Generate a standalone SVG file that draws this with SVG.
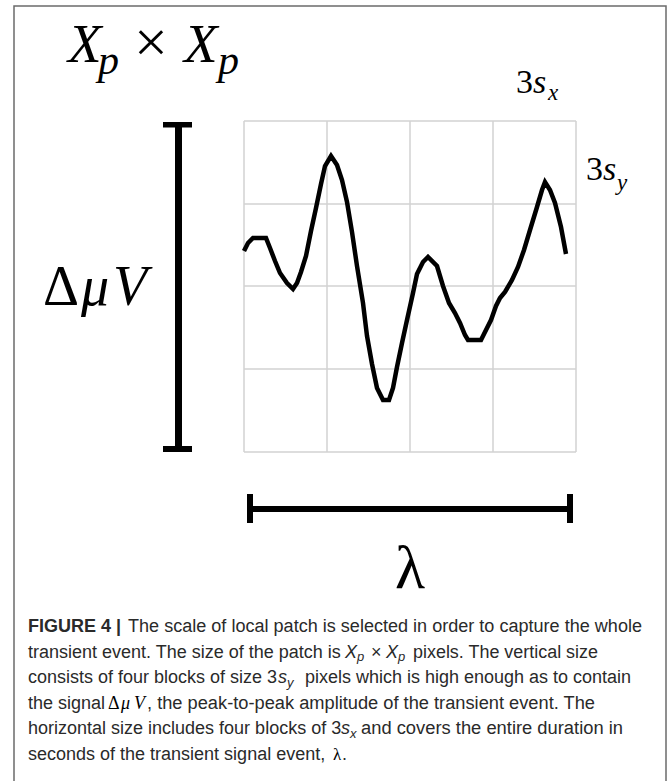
<svg xmlns="http://www.w3.org/2000/svg" width="670" height="781" viewBox="0 0 670 781">
<style>
.frame{fill:none;stroke:#6b6b6b;stroke-width:1.5}
.grid line{stroke:#d2d2d2;stroke-width:1.5}
.sig{fill:none;stroke:#000;stroke-width:4.5;stroke-linejoin:miter;stroke-miterlimit:3}
.bar{fill:#000}
.m{font-family:"Liberation Serif","DejaVu Serif",serif;fill:#000}
.i{font-style:italic}
.cap{font-family:"Liberation Sans",Arial,sans-serif;font-size:18px;fill:#2a2a2a}
.capm{font-family:"Liberation Sans",Arial,sans-serif;fill:#2a2a2a;font-style:italic}
.b{font-weight:bold}
</style>
<rect width="670" height="781" fill="#fff"/>
<path class="frame" d="M14,781 V6 H666 V781"/>

<g id="grid" class="grid">
<line x1="244" y1="121" x2="576" y2="121"/>
<line x1="244" y1="204" x2="576" y2="204"/>
<line x1="244" y1="286" x2="576" y2="286"/>
<line x1="244" y1="369" x2="576" y2="369"/>
<line x1="244" y1="452" x2="576" y2="452"/>
<line x1="244" y1="121" x2="244" y2="452"/>
<line x1="327" y1="121" x2="327" y2="452"/>
<line x1="410" y1="121" x2="410" y2="452"/>
<line x1="493" y1="121" x2="493" y2="452"/>
<line x1="576" y1="121" x2="576" y2="452"/>
</g>

<g id="signal">
<polyline class="sig" points="244,251 248,243 253,238 266,238 270,248 275,261 280,273 287,283 293,289 297,283 301,272 306,256 311,231 316,208 321,184 325,166 331,156 337,165 342,180 347,202 352,232 357,266 363,303 367,336 372,364 377,388 383,400 389,400 393,388 397,367 402,343 407,320 413,293 417,274 423,262 428,257 437,266 443,286 449,303 455,313 460,323 465,335 468,340 481,340 486,330 491,320 496,306 500,298 505,292 512,280 518,267 524,250 530,230 537,207 542,190 545,182 550,190 555,203 561,227 566,254"/>
</g>

<g id="amplitude-bar">
<rect class="bar" x="175" y="122" width="7" height="330"/>
<rect class="bar" x="163" y="122" width="29" height="5.5"/>
<rect class="bar" x="163" y="446" width="29" height="6"/>
</g>

<g id="duration-bar">
<rect class="bar" x="247" y="506" width="326" height="6"/>
<rect class="bar" x="247" y="494" width="6" height="29"/>
<rect class="bar" x="567" y="494" width="6" height="29"/>
</g>

<g id="patch-size-label">
<text class="m i" x="68" y="62" font-size="55">X</text>
<text class="m i" x="98" y="74" font-size="42">p</text>
<text class="m" x="134" y="62" font-size="60">×</text>
<text class="m i" x="184" y="62" font-size="55">X</text>
<text class="m i" x="218" y="74" font-size="42">p</text>
</g>

<g id="block-x-label">
<text class="m" x="516" y="93" font-size="34">3<tspan class="i">s</tspan></text>
<text class="m i" x="548" y="100" font-size="23">x</text>
</g>
<g id="block-y-label">
<text class="m" x="586" y="180" font-size="34">3<tspan class="i">s</tspan></text>
<text class="m i" x="617" y="190" font-size="23">y</text>
</g>

<g id="amplitude-label">
<text class="m" x="43" y="305" font-size="56">Δ</text>
<text class="m i" x="81" y="305" font-size="56">μ</text>
<text class="m i" x="113" y="305" font-size="56">V</text>
</g>

<g id="duration-label">
<text class="m" x="395" y="588" font-size="62">λ</text>
</g>

<g id="caption">
<text class="cap b" x="28" y="632">FIGURE 4 |</text>
<text class="cap" x="128" y="632" textLength="514" lengthAdjust="spacingAndGlyphs">The scale of local patch is selected in order to capture the whole</text>

<text class="cap" x="28" y="657.5">transient event. The size of the patch is</text>
<text class="capm" x="345" y="657.5" font-size="18">X</text>
<text class="capm" x="357" y="661" font-size="13">p</text>
<text class="cap" x="371" y="657.5">×</text>
<text class="capm" x="386" y="657.5" font-size="18">X</text>
<text class="capm" x="398" y="661" font-size="13">p</text>
<text class="cap" x="413" y="657.5" textLength="185" lengthAdjust="spacingAndGlyphs">pixels. The vertical size</text>

<text class="cap" x="28" y="683">consists of four blocks of size 3</text>
<text class="capm" x="278" y="683" font-size="18">s</text>
<text class="capm" x="287" y="687" font-size="13">y</text>
<text class="cap" x="305" y="683" textLength="326" lengthAdjust="spacingAndGlyphs">pixels which is high enough as to contain</text>

<text class="cap" x="28" y="708.5">the signal</text>
<text class="m" x="108" y="708.5" font-size="18">Δ</text>
<text class="m i" x="121" y="708.5" font-size="18">μ</text>
<text class="m i" x="134" y="708.5" font-size="18">V</text>
<text class="cap" x="147" y="708.5" textLength="448" lengthAdjust="spacingAndGlyphs">, the peak-to-peak amplitude of the transient event. The</text>

<text class="cap" x="28" y="734">horizontal size includes four blocks of 3</text>
<text class="capm" x="341" y="734" font-size="18">s</text>
<text class="capm" x="350" y="738" font-size="13">x</text>
<text class="cap" x="361" y="734" textLength="262" lengthAdjust="spacingAndGlyphs">and covers the entire duration in</text>

<text class="cap" x="28" y="759.5">seconds of the transient signal event,</text>
<text class="m" x="333" y="759.5" font-size="17">λ</text>
<text class="cap" x="342" y="759.5">.</text>
</g>
</svg>
